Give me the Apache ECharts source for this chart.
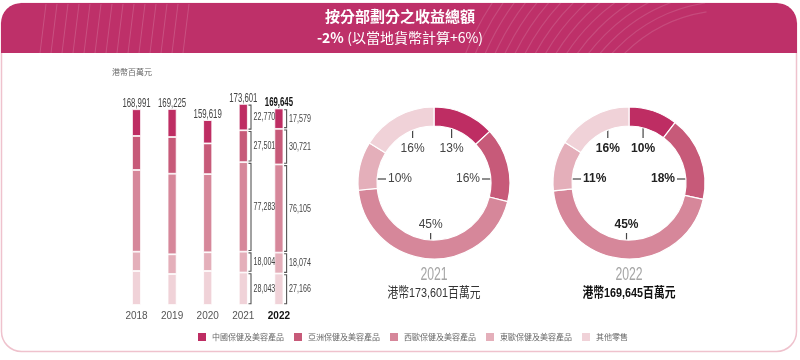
<!DOCTYPE html>
<html><head><meta charset="utf-8">
<script src="https://cdn.jsdelivr.net/npm/echarts@6/dist/echarts.min.js"></script>
<style>html,body{margin:0;padding:0;background:#fff}#c{width:800px;height:360px}</style>
</head><body><div id="c"></div>
<script>
// ---- data ----
const years = ['2018', '2019', '2020', '2021', '2022'];
const segNames = ['中國保健及美容產品', '亞洲保健及美容產品', '西歐保健及美容產品', '東歐保健及美容產品', '其他零售'];
const china   = [23060, 24180, 20120, 22770, 17579];
const asia    = [29360, 31690, 26510, 27501, 30721];
const westEu  = [70541, 69565, 67479, 77283, 76105];
const eastEu  = [16670, 17010, 16150, 18004, 18074];
const others  = [29360, 26770, 29360, 28043, 27166];
const totals  = [168991, 169225, 159619, 173601, 169645];
const unitLabel = '港幣百萬元';
const titleLine1 = '按分部劃分之收益總額';
const titleLine2a = '-2%';
const titleLine2b = '(以當地貨幣計算+6%)';
const pieYears = ['2021', '2022'];
const pieCaptions = ['港幣173,601百萬元', '港幣169,645百萬元'];

// ---- style ----
const colors = ['#be2d63', '#c75a79', '#d6879a', '#e4afba', '#f0d2d8'];
const NUM_FONT = "'Liberation Sans','Noto Sans CJK TC',sans-serif";
const CJK_FONT = "'Noto Sans CJK TC','Noto Sans',sans-serif";
const NARROW = 0.62;
const BAR_W = 9;
const pieCenters = [[434, 183], [629, 183]];

const stackSeries = [others, eastEu, westEu, asia, china]; // bottom -> top
const stackNames = [segNames[4], segNames[3], segNames[2], segNames[1], segNames[0]];
const stackColors = [colors[4], colors[3], colors[2], colors[1], colors[0]];

const fmt = v => v.toLocaleString('en-US');

const barSeries = stackSeries.map((arr, k) => ({
  type: 'bar', name: stackNames[k], stack: 'rev', barWidth: BAR_W,
  itemStyle: { color: stackColors[k], borderColor: '#fff', borderWidth: 0.8 },
  data: arr.slice(),
  z: 2
}));

// segment rows for 2021 & 2022: [cat, base, top, value]
const segRows = [];
[3, 4].forEach(i => {
  let base = 0;
  stackSeries.forEach(arr => { segRows.push([i, base, base + arr[i], arr[i]]); base += arr[i]; });
});

const bracketSeries = {
  type: 'custom', silent: true, z: 3,
  renderItem: (params, api) => {
    const c = api.value(0);
    const p0 = api.coord([c, api.value(1)]);
    const p1 = api.coord([c, api.value(2)]);
    const pm = api.coord([c, (api.value(1) + api.value(2)) / 2]);
    const x = p0[0] + BAR_W / 2 + 3.2;
    const yb = p0[1] - 1.2, yt = p1[1] + 1.2;
    return { type: 'group', children: [
      { type: 'polyline', shape: { points: [[x - 2.5, yt], [x, yt], [x, yb], [x - 2.5, yb]] },
        style: { stroke: '#555', lineWidth: 1.1, fill: null } },
      { type: 'text', x: x + 2.5, y: pm[1], scaleX: NARROW,
        style: { text: fmt(api.value(3)), fill: '#444', fontFamily: NUM_FONT, fontSize: 11.5,
          align: 'left', verticalAlign: 'middle' } }
    ] };
  },
  encode: { x: 0, y: [1, 2] },
  data: segRows
};

const totalRows = totals.map((v, i) => [i, v]);
const totalSeries = {
  type: 'custom', silent: true, z: 4,
  renderItem: (params, api) => {
    const i = api.value(0);
    const p = api.coord([i, api.value(1)]);
    const last = params.dataIndex === totals.length - 1;
    return { type: 'text', x: p[0], y: p[1] + 0.5, scaleX: NARROW + 0.03,
      style: { text: fmt(api.value(1)), fill: last ? '#111' : '#444', fontFamily: NUM_FONT,
        fontSize: 12, fontWeight: last ? 'bold' : 'normal', align: 'center', verticalAlign: 'bottom' } };
  },
  encode: { x: 0, y: 1 },
  data: totalRows
};

function pieValues(i) { return [china[i], asia[i], westEu[i], eastEu[i], others[i]]; }

function makeLayout(vals, center) {
  const total = vals.reduce((a, b) => a + b, 0);
  const [cx, cy] = center;
  return function (params) {
    const i = params.dataIndex;
    let before = 0; for (let k = 0; k < i; k++) before += vals[k];
    const ang = (before + vals[i] / 2) / total * Math.PI * 2;
    const sx = Math.sin(ang), cs = Math.cos(ang);
    if (Math.abs(sx) > 0.85) {
      const s = sx > 0 ? 1 : -1;
      const y = cy - 4;
      const x1 = cx + s * 65, x2 = cx + s * 48;
      return { x: x2 - s * 2, y: y, align: s > 0 ? 'right' : 'left', verticalAlign: 'middle',
        labelLinePoints: [[x1, y], [x2, y], [x2, y]] };
    }
    const x = cx + 44 * sx;
    if (cs > 0) {
      const y1 = cy - 62, y2 = cy - 45;
      return { x: x, y: y2 + 5, align: 'center', verticalAlign: 'top',
        labelLinePoints: [[x, y1], [x, y2], [x, y2]] };
    } else {
      const y1 = cy + 67, y2 = cy + 50;
      return { x: x, y: y2 - 2, align: 'center', verticalAlign: 'bottom',
        labelLinePoints: [[x, y1], [x, y2], [x, y2]] };
    }
  };
}

const pieSeries = [3, 4].map((yi, n) => {
  const vals = pieValues(yi);
  const tot = vals.reduce((a, b) => a + b, 0);
  return {
    type: 'pie', center: pieCenters[n], radius: [57, 76], startAngle: 90, clockwise: true,
    avoidLabelOverlap: false, silent: true,
    itemStyle: { borderColor: '#fff', borderWidth: 1.2 },
    label: {
      show: true, position: 'outside',
      formatter: p => Math.round(p.value / tot * 100) + '%',
      fontFamily: NUM_FONT, fontSize: 12, color: n === 1 ? '#222' : '#444',
      fontWeight: n === 1 ? 'bold' : 'normal'
    },
    labelLine: { show: true, lineStyle: { color: '#444', width: 1.2 } },
    labelLayout: makeLayout(vals, pieCenters[n]),
    data: vals.map((v, k) => ({ name: segNames[k], value: v, itemStyle: { color: colors[k] } }))
  };
});

// header decoration lines (texture)
const deco = [];
for (let k = 0; k < 14; k++) {
  const x = 40 + k * 11;
  deco.push({ type: 'line', shape: { x1: x + 6, y1: 4, x2: x, y2: 53 },
    style: { stroke: 'rgba(255,255,255,0.16)', lineWidth: 1 }, silent: true });
}
for (let k = 0; k < 16; k++) {
  const r = 150 + k * 9;
  deco.push({ type: 'arc', shape: { cx: 730, cy: 160, r: r, startAngle: Math.PI * 1.05, endAngle: Math.PI * 1.45 },
    style: { stroke: 'rgba(255,255,255,0.13)', lineWidth: 1.2, fill: null }, silent: true });
}

const captionGraphics = [];
pieCenters.forEach((c, n) => {
  captionGraphics.push({ type: 'text', x: c[0], y: 275, scaleX: 0.68, silent: true,
    style: { text: pieYears[n], fill: '#a6a6a6', fontFamily: NUM_FONT, fontSize: 18, align: 'center', verticalAlign: 'middle' } });
  captionGraphics.push({ type: 'text', x: c[0], y: 293, scaleX: 0.8, silent: true,
    style: { text: pieCaptions[n], fill: n === 1 ? '#111' : '#333', fontFamily: NUM_FONT, fontSize: 13.5,
      fontWeight: n === 1 ? 'bold' : 'normal', align: 'center', verticalAlign: 'middle' } });
});

const chart = echarts.init(document.getElementById('c'), null, { renderer: 'canvas' });
chart.setOption({
  animation: false,
  backgroundColor: '#fff',
  color: stackColors,
  graphic: [
    { type: 'rect', z: -2, shape: { x: 1.5, y: 3.5, width: 795, height: 348, r: 20 },
      style: { fill: '#fff', stroke: '#efc2cd', lineWidth: 1.5 }, silent: true },
    { type: 'group', z: -1, silent: true,
      clipPath: { type: 'rect', shape: { x: 1, y: 3, width: 796, height: 50, r: [20, 20, 0, 0] } },
      children: [
        { type: 'rect', shape: { x: 1, y: 3, width: 796, height: 50, r: [20, 20, 0, 0] }, style: { fill: '#be3069' } }
      ].concat(deco)
    },
    { type: 'text', left: 'center', top: 9, z: 10, silent: true,
      style: { text: titleLine1, fill: '#fff', font: "bold 15px " + CJK_FONT } },
    { type: 'text', left: 'center', top: 31, z: 10, silent: true,
      style: { text: '{a|' + titleLine2a + '} {b|' + titleLine2b + '}', fill: '#fff',
        rich: { a: { fontFamily: CJK_FONT, fontWeight: 'bold', fontSize: 14, fill: '#fff' },
                b: { fontFamily: CJK_FONT, fontSize: 14, fill: '#fff' } } } }
  ].concat(captionGraphics),
  title: [
    { text: unitLabel, left: 112, top: 68, padding: 0,
      textStyle: { fontFamily: CJK_FONT, fontSize: 8, color: '#666', fontWeight: 'normal' } }
  ],
  legend: {
    data: segNames, left: 196, top: 331, padding: 0, icon: 'rect', itemWidth: 10, itemHeight: 10, itemGap: 8,
    selectedMode: false,
    textStyle: { fontFamily: CJK_FONT, fontSize: 8, color: '#666' }
  },
  grid: { left: 118.7, width: 178, top: 96.5, bottom: 55, containLabel: false },
  xAxis: {
    type: 'category', data: years,
    axisLine: { show: false }, axisTick: { show: false },
    axisLabel: {
      interval: 0, margin: 6, fontFamily: NUM_FONT, fontSize: 10, color: '#555',
      formatter: (v, i) => i === 4 ? '{b|' + v + '}' : v,
      rich: { b: { fontFamily: NUM_FONT, fontSize: 10, fontWeight: 'bold', color: '#111' } }
    }
  },
  yAxis: { type: 'value', min: 0, max: 180000, show: false, splitLine: { show: false } },
  series: barSeries.concat([bracketSeries, totalSeries], pieSeries)
});
</script>
</body></html>
